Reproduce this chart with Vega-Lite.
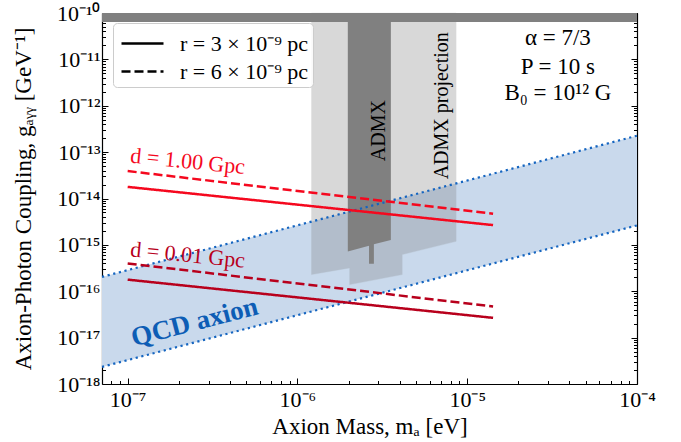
{
  "$schema": "https://vega.github.io/schema/vega-lite/v6.json",
  "width": 535,
  "height": 371,
  "autosize": {"type": "none"},
  "padding": {"left": 102, "top": 13, "right": 44, "bottom": 58},
  "background": "white",
  "config": {
    "view": {"stroke": null},
    "axis": {
      "labelFont": "Liberation Serif",
      "labelFontSize": 22,
      "labelColor": "black",
      "titleFont": "Liberation Serif",
      "titleFontSize": 23,
      "titleFontWeight": "normal",
      "titleColor": "black",
      "domainColor": "black",
      "domainWidth": 1.2,
      "tickColor": "black",
      "tickWidth": 1,
      "grid": false,
      "zindex": 1
    },
    "text": {"font": "Liberation Serif"}
  },
  "datasets": {
    "band": [
      {"m": 7.06e-8, "lo": 2.34e-18, "hi": 2.04e-16},
      {"m": 1e-4, "lo": 2.63e-15, "hi": 2.26e-13}
    ],
    "bandEdges": [
      {"m": 7.06e-8, "g": 2.34e-18, "edge": "lower"},
      {"m": 1e-4, "g": 2.63e-15, "edge": "lower"},
      {"m": 7.06e-8, "g": 2.04e-16, "edge": "upper"},
      {"m": 1e-4, "g": 2.26e-13, "edge": "upper"}
    ],
    "projection": [
      {"m": 1.21e-6, "g": 2.29e-16},
      {"m": 2.03e-6, "g": 3.19e-16},
      {"m": 2.03e-6, "g": 1.39e-16},
      {"m": 4.14e-6, "g": 2.29e-16},
      {"m": 4.14e-6, "g": 6.18e-16},
      {"m": 8.6e-6, "g": 1.19e-15}
    ],
    "admx": [
      {"m": 1.98e-6, "g": 7.18e-16},
      {"m": 2.64e-6, "g": 9.57e-16},
      {"m": 2.64e-6, "g": 3.9e-16},
      {"m": 2.82e-6, "g": 3.9e-16},
      {"m": 2.82e-6, "g": 1.03e-15},
      {"m": 3.55e-6, "g": 1.28e-15}
    ],
    "topband": [
      {"m": 7.06e-8, "m2": 1e-4, "g": 6.4e-11, "g2": 1e-10}
    ],
    "curves": [
      {"m": 1e-7, "g": 1.78e-14, "d": "1.00 Gpc", "r": "r = 3 × 10⁻⁹ pc"},
      {"m": 1.42e-5, "g": 2.67e-15, "d": "1.00 Gpc", "r": "r = 3 × 10⁻⁹ pc"},
      {"m": 1e-7, "g": 3.9e-14, "d": "1.00 Gpc", "r": "r = 6 × 10⁻⁹ pc"},
      {"m": 1.42e-5, "g": 4.7e-15, "d": "1.00 Gpc", "r": "r = 6 × 10⁻⁹ pc"},
      {"m": 1e-7, "g": 1.78e-16, "d": "0.01 Gpc", "r": "r = 3 × 10⁻⁹ pc"},
      {"m": 1.42e-5, "g": 2.67e-17, "d": "0.01 Gpc", "r": "r = 3 × 10⁻⁹ pc"},
      {"m": 1e-7, "g": 3.97e-16, "d": "0.01 Gpc", "r": "r = 6 × 10⁻⁹ pc"},
      {"m": 1.42e-5, "g": 4.7e-17, "d": "0.01 Gpc", "r": "r = 6 × 10⁻⁹ pc"}
    ]
  },
  "layer": [
    {
      "data": {"name": "band"},
      "mark": {"type": "area", "color": "#c9d9ec", "opacity": 1},
      "encoding": {
        "x": {
          "field": "m", "type": "quantitative",
          "scale": {"type": "log", "domain": [7.06e-8, 1e-4], "nice": false},
          "axis": {
            "orient": "bottom",
            "title": "Axion Mass, mₐ [eV]",
            "titlePadding": 3,
            "values": [8e-8, 9e-8, 1e-7, 2e-7, 3e-7, 4e-7, 5e-7, 6e-7, 7e-7, 8e-7, 9e-7, 1e-6, 2e-6, 3e-6, 4e-6, 5e-6, 6e-6, 7e-6, 8e-6, 9e-6, 1e-5, 2e-5, 3e-5, 4e-5, 5e-5, 6e-5, 7e-5, 8e-5, 9e-5, 1e-4],
            "labelExpr": "abs(log(datum.value)/LN10 - round(log(datum.value)/LN10)) < 0.001 ? '10⁻' + ((-round(log(datum.value)/LN10)) >= 10 ? '¹' : '') + substring('⁰¹²³⁴⁵⁶⁷⁸⁹', (-round(log(datum.value)/LN10)) % 10, (-round(log(datum.value)/LN10)) % 10 + 1) : ''",
            "tickSize": {"condition": {"test": "abs(log(datum.value)/LN10 - round(log(datum.value)/LN10)) < 0.001", "value": -6}, "value": -3.5},
            "labelPadding": 11,
            "labelFlush": false,
            "labelOverlap": false
          }
        },
        "y": {
          "field": "lo", "type": "quantitative",
          "scale": {"type": "log", "domain": [1e-18, 1e-10], "nice": false},
          "axis": {
            "orient": "left",
            "title": "Axion-Photon Coupling, gₐᵧᵧ [GeV⁻¹]",
            "titlePadding": 21,
            "values": [1e-18, 2e-18, 3e-18, 4e-18, 5e-18, 6e-18, 7e-18, 8e-18, 9e-18, 1e-17, 2e-17, 3e-17, 4e-17, 5e-17, 6e-17, 7e-17, 8e-17, 9e-17, 1e-16, 2e-16, 3e-16, 4e-16, 5e-16, 6e-16, 7e-16, 8e-16, 9e-16, 1e-15, 2e-15, 3e-15, 4e-15, 5e-15, 6e-15, 7e-15, 8e-15, 9e-15, 1e-14, 2e-14, 3e-14, 4e-14, 5e-14, 6e-14, 7e-14, 8e-14, 9e-14, 1e-13, 2e-13, 3e-13, 4e-13, 5e-13, 6e-13, 7e-13, 8e-13, 9e-13, 1e-12, 2e-12, 3e-12, 4e-12, 5e-12, 6e-12, 7e-12, 8e-12, 9e-12, 1e-11, 2e-11, 3e-11, 4e-11, 5e-11, 6e-11, 7e-11, 8e-11, 9e-11, 1e-10],
            "labelExpr": "abs(log(datum.value)/LN10 - round(log(datum.value)/LN10)) < 0.001 ? '10⁻' + ((-round(log(datum.value)/LN10)) >= 10 ? '¹' : '') + substring('⁰¹²³⁴⁵⁶⁷⁸⁹', (-round(log(datum.value)/LN10)) % 10, (-round(log(datum.value)/LN10)) % 10 + 1) : ''",
            "tickSize": {"condition": {"test": "abs(log(datum.value)/LN10 - round(log(datum.value)/LN10)) < 0.001", "value": -6}, "value": -3.5},
            "labelPadding": 8,
            "labelFlush": false,
            "labelOverlap": false
          }
        },
        "y2": {"field": "hi"}
      }
    },
    {
      "data": {"name": "projection"},
      "mark": {"type": "area", "color": "#808080", "opacity": 0.3, "stroke": "#808080", "strokeOpacity": 0.35, "strokeWidth": 1},
      "encoding": {
        "x": {
          "field": "m", "type": "quantitative",
          "axis": {
            "orient": "top", "labels": false, "title": null,
            "values": [8e-8, 9e-8, 1e-7, 2e-7, 3e-7, 4e-7, 5e-7, 6e-7, 7e-7, 8e-7, 9e-7, 1e-6, 2e-6, 3e-6, 4e-6, 5e-6, 6e-6, 7e-6, 8e-6, 9e-6, 1e-5, 2e-5, 3e-5, 4e-5, 5e-5, 6e-5, 7e-5, 8e-5, 9e-5, 1e-4],
            "tickSize": {"condition": {"test": "abs(log(datum.value)/LN10 - round(log(datum.value)/LN10)) < 0.001", "value": -6}, "value": -3.5}
          }
        },
        "y": {
          "field": "g", "type": "quantitative",
          "axis": {
            "orient": "right", "labels": false, "title": null,
            "values": [1e-18, 2e-18, 3e-18, 4e-18, 5e-18, 6e-18, 7e-18, 8e-18, 9e-18, 1e-17, 2e-17, 3e-17, 4e-17, 5e-17, 6e-17, 7e-17, 8e-17, 9e-17, 1e-16, 2e-16, 3e-16, 4e-16, 5e-16, 6e-16, 7e-16, 8e-16, 9e-16, 1e-15, 2e-15, 3e-15, 4e-15, 5e-15, 6e-15, 7e-15, 8e-15, 9e-15, 1e-14, 2e-14, 3e-14, 4e-14, 5e-14, 6e-14, 7e-14, 8e-14, 9e-14, 1e-13, 2e-13, 3e-13, 4e-13, 5e-13, 6e-13, 7e-13, 8e-13, 9e-13, 1e-12, 2e-12, 3e-12, 4e-12, 5e-12, 6e-12, 7e-12, 8e-12, 9e-12, 1e-11, 2e-11, 3e-11, 4e-11, 5e-11, 6e-11, 7e-11, 8e-11, 9e-11, 1e-10],
            "tickSize": {"condition": {"test": "abs(log(datum.value)/LN10 - round(log(datum.value)/LN10)) < 0.001", "value": -6}, "value": -3.5}
          }
        },
        "y2": {"datum": 1e-10}
      }
    },
    {
      "data": {"name": "admx"},
      "mark": {"type": "area", "color": "#808080", "opacity": 1},
      "encoding": {
        "x": {"field": "m", "type": "quantitative", "axis": null},
        "y": {"field": "g", "type": "quantitative", "axis": null},
        "y2": {"datum": 1e-10}
      }
    },
    {
      "data": {"name": "topband"},
      "mark": {"type": "rect", "color": "#808080"},
      "encoding": {
        "x": {"field": "m", "type": "quantitative", "axis": null},
        "x2": {"field": "m2"},
        "y": {"field": "g", "type": "quantitative", "axis": null},
        "y2": {"field": "g2"}
      }
    },
    {
      "data": {"name": "bandEdges"},
      "mark": {"type": "line", "color": "#1565c0", "strokeWidth": 2.2, "strokeDash": [2.2, 3.6]},
      "encoding": {
        "x": {"field": "m", "type": "quantitative", "axis": null},
        "y": {"field": "g", "type": "quantitative", "axis": null},
        "detail": {"field": "edge"}
      }
    },
    {
      "data": {"name": "curves"},
      "mark": {"type": "line", "strokeWidth": 2.5},
      "encoding": {
        "x": {"field": "m", "type": "quantitative", "axis": null},
        "y": {"field": "g", "type": "quantitative", "axis": null},
        "color": {
          "field": "d", "type": "nominal",
          "scale": {"domain": ["1.00 Gpc", "0.01 Gpc"], "range": ["#f5081e", "#b8001c"]},
          "legend": null
        },
        "strokeDash": {
          "field": "r", "type": "nominal",
          "scale": {"domain": ["r = 3 × 10⁻⁹ pc", "r = 6 × 10⁻⁹ pc"], "range": [[1, 0], [9, 4]]},
          "legend": {
            "title": null,
            "orient": "none",
            "legendX": 11,
            "legendY": 10,
            "padding": 4,
            "fillColor": "rgba(255,255,255,0.85)",
            "strokeColor": "#cccccc",
            "cornerRadius": 4,
            "symbolType": "M-0.8,0H2",
            "symbolSize": 900,
            "symbolStrokeColor": "black",
            "symbolStrokeWidth": 2.5,
            "labelFont": "Liberation Serif",
            "labelFontSize": 22,
            "labelColor": "black",
            "labelOffset": 30,
            "rowPadding": 0,
            "labelLimit": 300,
            "zindex": 2
          }
        }
      }
    },
    {
      "data": {"values": [{"label": "d = 1.00 Gpc", "m": 1.03e-7, "g": 5.94e-14}]},
      "mark": {"type": "text", "color": "#f5081e", "fontSize": 22, "align": "left", "baseline": "alphabetic", "angle": 5.7},
      "encoding": {
        "x": {"field": "m", "type": "quantitative", "axis": null},
        "y": {"field": "g", "type": "quantitative", "axis": null},
        "text": {"field": "label"}
      }
    },
    {
      "data": {"values": [{"label": "d = 0.01 Gpc", "m": 1.03e-7, "g": 5.68e-16}]},
      "mark": {"type": "text", "color": "#b8001c", "fontSize": 22, "align": "left", "baseline": "alphabetic", "angle": 5.7},
      "encoding": {
        "x": {"field": "m", "type": "quantitative", "axis": null},
        "y": {"field": "g", "type": "quantitative", "axis": null},
        "text": {"field": "label"}
      }
    },
    {
      "data": {"values": [{"label": "QCD axion", "m": 2.55e-7, "g": 1.45e-17}]},
      "mark": {"type": "text", "color": "#0d5db5", "fontSize": 27, "fontWeight": "bold", "align": "center", "baseline": "alphabetic", "angle": -14.5},
      "encoding": {
        "x": {"field": "m", "type": "quantitative", "axis": null},
        "y": {"field": "g", "type": "quantitative", "axis": null},
        "text": {"field": "label"}
      }
    },
    {
      "data": {"values": [
        {"label": "ADMX", "m": 3.03e-6, "g": 2.9e-13},
        {"label": "ADMX projection", "m": 7.13e-6, "g": 1e-12}
      ]},
      "mark": {"type": "text", "color": "black", "fontSize": 20, "align": "center", "baseline": "middle", "angle": 270},
      "encoding": {
        "x": {"field": "m", "type": "quantitative", "axis": null},
        "y": {"field": "g", "type": "quantitative", "axis": null},
        "text": {"field": "label"}
      }
    },
    {
      "data": {"values": [
        {"label": "α = 7/3", "m": 3.42e-5, "g": 2.94e-11},
        {"label": "P = 10 s", "m": 3.42e-5, "g": 6.97e-12},
        {"label": "B₀ = 10¹² G", "m": 3.42e-5, "g": 1.92e-12}
      ]},
      "mark": {"type": "text", "color": "black", "fontSize": 23, "align": "center", "baseline": "middle"},
      "encoding": {
        "x": {"field": "m", "type": "quantitative", "axis": null},
        "y": {"field": "g", "type": "quantitative", "axis": null},
        "text": {"field": "label"}
      }
    }
  ],
  "resolve": {"axis": {"x": "independent", "y": "independent"}}
}
